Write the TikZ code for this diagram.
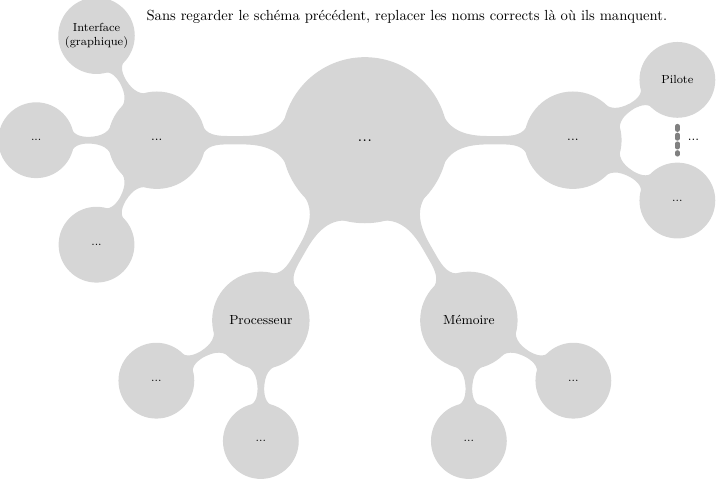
\documentclass[tikz,border=0pt]{standalone}
\usetikzlibrary{mindmap}
\begin{document}
\begin{tikzpicture}[
  rootc/.style={minimum size=3.95cm, text width=3.2cm, align=center, font=\large, text=black},
  lvone/.style={minimum size=2.3cm, text width=2cm, align=center, font=\small, text=black},
  lvtwo/.style={minimum size=1.78cm, text width=1.6cm, align=center, font=\footnotesize, text=black, inner sep=1pt},
  dotsline/.style={draw=gray, line width=3pt, line cap=round, dash pattern=on 2.5pt off 3.5pt, shorten <=0.22cm, shorten >=0.22cm}
]
\useasboundingbox (-8.77,-8.17) rectangle (8.44,3.37);
\path[mindmap, concept color=black!16,
      level 1/.append style={level distance=5cm},
      level 2/.append style={level distance=2.9cm}]
  node[concept, rootc] (root) {...}
  child[grow=180] { node[concept, lvone] (sys) {...}
    child[grow=120] { node[concept, lvtwo] (iface) {Interface (graphique)} }
    child[grow=180] { node[concept, lvtwo] (sysl) {...} }
    child[grow=240] { node[concept, lvtwo] (sysb) {...} }
  }
  child[grow=0] { node[concept, lvone] (per) {...}
    child[grow=30] { node[concept, lvtwo] (pilote) {Pilote} }
    child[grow=-30] { node[concept, lvtwo] (perb) {...} }
  }
  child[grow=240] { node[concept, lvone] (proc) {Processeur}
    child[grow=210] { node[concept, lvtwo] (procl) {...} }
    child[grow=270] { node[concept, lvtwo] (procb) {...} }
  }
  child[grow=300] { node[concept, lvone] (mem) {M\'emoire}
    child[grow=270] { node[concept, lvtwo] (memb) {...} }
    child[grow=330] { node[concept, lvtwo] (memr) {...} }
  };
\draw[dotsline] (pilote.south) -- (perb.north)
  node[midway, right=0.2cm, inner sep=0pt, font=\small, text=black] (etc) {...};
\node[font=\normalsize, text=black] (consigne) at (1.01,2.96)
  {Sans regarder le sch\'ema pr\'ec\'edent, replacer les noms corrects l\`a o\`u ils manquent.};
\end{tikzpicture}
\end{document}
